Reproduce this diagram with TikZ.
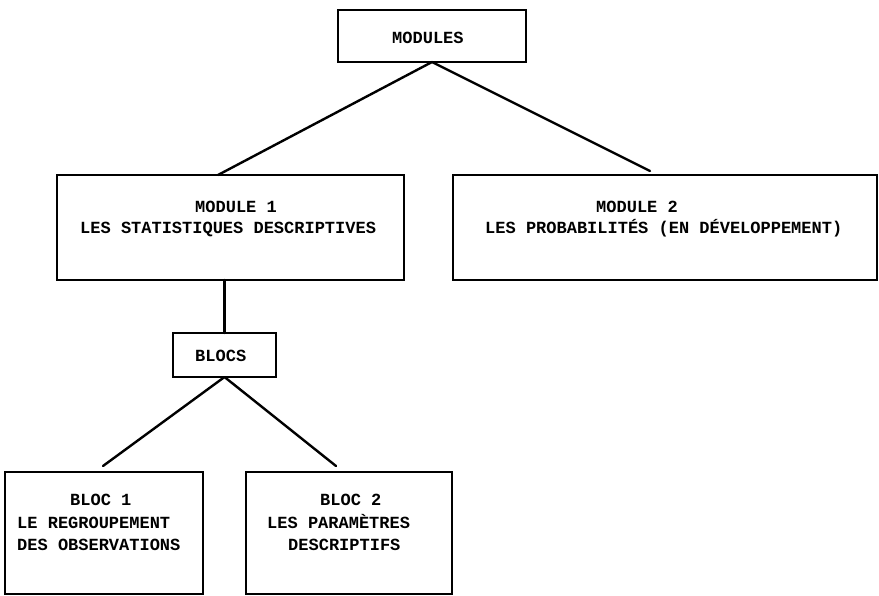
\documentclass[tikz,border=0pt]{standalone}
\usepackage{fontspec}
\setmainfont{Liberation Mono}
\begin{document}
\begin{tikzpicture}[x=1pt,y=-1pt,
  box/.style={draw=black,line width=2.2pt,rectangle,inner sep=0pt,outer sep=0pt},
  txt/.style={anchor=base west,inner sep=0pt,font=\fontsize{17}{20}\selectfont\bfseries},
  link/.style={draw=black,line width=2.4pt,line cap=round}]
\useasboundingbox[fill=white] (0,0) rectangle (879,596);
% boxes
\node[box,minimum width=188pt,minimum height=52pt] (m) at (432,36) {};
\node[box,minimum width=347pt,minimum height=105pt] (m1) at (230.5,227.5) {};
\node[box,minimum width=424pt,minimum height=105pt] (m2) at (665,227.5) {};
\node[box,minimum width=103pt,minimum height=44pt] (bl) at (224.5,355) {};
\node[box,minimum width=198pt,minimum height=122pt] (b1) at (104,533) {};
\node[box,minimum width=206pt,minimum height=122pt] (b2) at (349,533) {};
% texts
\node[txt] (tm) at (392,44) {MODULES};
\node[txt] (tm1a) at (195,213) {MODULE 1};
\node[txt] (tm1b) at (80,234) {LES STATISTIQUES DESCRIPTIVES};
\node[txt] (tm2a) at (596,213) {MODULE 2};
\node[txt] (tm2b) at (485,234) {LES PROBABILITÉS (EN DÉVELOPPEMENT)};
\node[txt] (tbl) at (195,361) {BLOCS};
\node[txt] (tb1a) at (70,505) {BLOC 1};
\node[txt] (tb1b) at (17,528) {LE REGROUPEMENT};
\node[txt] (tb1c) at (17,550) {DES OBSERVATIONS};
\node[txt] (tb2a) at (320,505) {BLOC 2};
\node[txt] (tb2b) at (267,528) {LES PARAMÈTRES};
\node[txt] (tb2c) at (288,550) {DESCRIPTIFS};
% connector ends
\coordinate (e1) at (218,175);
\coordinate (e2) at (650,171);
\coordinate (e3) at (103,466);
\coordinate (e4) at (336,466);
% connectors
\draw[link] (m.south) -- (e1);
\draw[link] (m.south) -- (e2);
\draw[link] (m1.south -| bl.north) -- (bl.north);
\draw[link] (bl.south) -- (e3);
\draw[link] (bl.south) -- (e4);
\end{tikzpicture}
\end{document}
